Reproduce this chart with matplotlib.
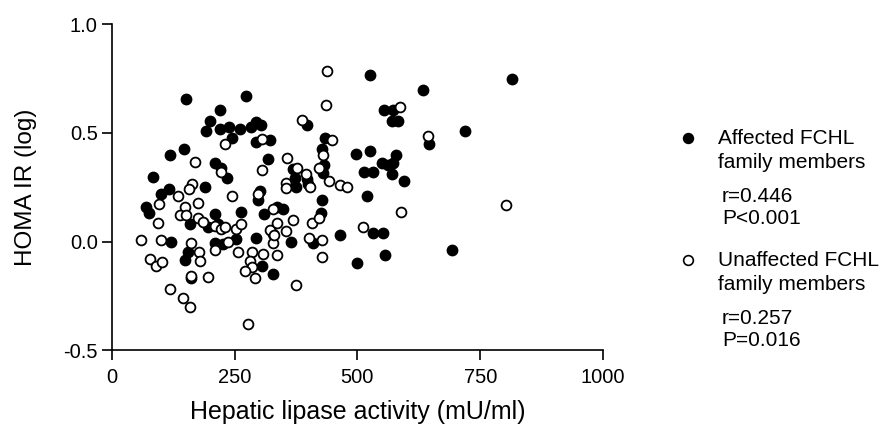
import matplotlib
matplotlib.use("Agg")
import matplotlib.pyplot as plt
from matplotlib.lines import Line2D

plt.rcParams["font.family"] = ["Liberation Sans", "DejaVu Sans"]

# Affected FCHL family members (filled circles)
aff_x = [150.7, 273, 220, 199.6, 191.4, 220, 239, 260.7, 243.8, 283, 293, 302.8, 293, 321.8,
         146.6, 119.5, 317.7, 209.8, 223.4, 233.6, 84.2, 189.4, 116.8, 99.8, 69.2, 76, 158.9,
         195, 209.8, 216.5, 264, 301.4, 296.7, 309.6, 335.4, 347.6, 121.5, 209.8, 226.7, 252.5,
         293.3, 155.4, 148.7, 162.3, 306, 327.3, 525.5, 632.8, 554, 571.7, 569.6, 583, 396.5,
         433.8, 646.2, 429, 496.3, 525.5, 578.4, 549.3, 562.8, 573, 513.2, 532.2, 569.6, 594.7,
         431.8, 430.3, 369.2, 372.7, 396.5, 399.8, 374.1, 427, 518.7, 425, 464.4, 532.2, 552.5,
         364, 409.9, 556, 498.4, 814, 719, 693]
aff_y = [0.658, 0.668, 0.607, 0.557, 0.508, 0.516, 0.526, 0.516, 0.477, 0.526, 0.550, 0.535, 0.459, 0.468,
         0.428, 0.398, 0.378, 0.360, 0.340, 0.291, 0.298, 0.252, 0.240, 0.217, 0.161, 0.130, 0.080,
         0.067, 0.128, 0.083, 0.138, 0.233, 0.190, 0.126, 0.159, 0.149, 0.000, -0.005, -0.012, 0.011,
         0.018, -0.050, -0.085, -0.168, -0.111, -0.150, 0.765, 0.699, 0.607, 0.607, 0.557, 0.557, 0.535,
         0.477, 0.447, 0.428, 0.405, 0.416, 0.398, 0.360, 0.352, 0.360, 0.320, 0.320, 0.309, 0.278,
         0.352, 0.317, 0.332, 0.294, 0.286, 0.263, 0.252, 0.190, 0.210, 0.133, 0.029, 0.041, 0.041,
         0.000, -0.005, -0.061, -0.101, 0.748, 0.508, -0.040]

# Unaffected FCHL family members (open circles)
unaff_x = [230, 306, 170.4, 221.4, 306, 164.3, 157.5, 135, 243.8, 298, 96.4, 148.7, 175.8, 138.5,
           150.7, 175.8, 186, 94.3, 209.8, 223.4, 230, 253.8, 264, 237, 60.5, 101.2, 160.9, 177.2,
           179.2, 209.8, 257.2, 77.4, 89.6, 103.3, 162.3, 196.1, 118.1, 145.2, 158.9, 276.4, 284.5,
           281, 286.5, 270.9, 291.2, 308.1, 327.3, 328.5, 321.8, 327.3, 438.5, 435.2, 586.6, 388.2,
           447.4, 644.2, 430.3, 355.8, 421.6, 376.2, 394.5, 441.9, 464.4, 479.2, 353.8, 353.8, 403.3,
           588, 511.8, 336.6, 368, 406.7, 422.2, 330, 353.8, 401.2, 428.3, 336.6, 428.3, 374.7, 801.8]
unaff_y = [0.447, 0.470, 0.367, 0.320, 0.329, 0.266, 0.240, 0.210, 0.210, 0.220, 0.172, 0.161, 0.179, 0.122,
           0.122, 0.110, 0.092, 0.087, 0.072, 0.057, 0.067, 0.057, 0.080, 0.000, 0.008, 0.008, -0.009, -0.047,
           -0.089, -0.040, -0.050, -0.081, -0.111, -0.092, -0.157, -0.162, -0.218, -0.260, -0.300, -0.379, -0.050,
           -0.089, -0.119, -0.134, -0.168, -0.058, -0.009, 0.034, 0.052, 0.149, 0.786, 0.627, 0.618, 0.558,
           0.467, 0.488, 0.398, 0.385, 0.340, 0.340, 0.309, 0.278, 0.260, 0.251, 0.268, 0.248, 0.252,
           0.138, 0.069, 0.087, 0.100, 0.087, 0.110, 0.029, 0.049, 0.018, 0.008, -0.061, -0.070, -0.199, 0.168]

x_ticks = [0, 250, 500, 750, 1000]
y_ticks = [-0.5, 0.0, 0.5, 1.0]

legend_items = [
    ("Affected FCHL\nfamily members", "r=0.446\nP<0.001", "black"),
    ("Unaffected FCHL\nfamily members", "r=0.257\nP=0.016", "white"),
]

fig = plt.figure(figsize=(8.94, 4.26), dpi=100)
ax = fig.add_axes([0.125, 0.178, 0.5495, 0.765])

ax.scatter(aff_x, aff_y, s=56, facecolor="black", edgecolor="black", linewidth=1.0, zorder=3, clip_on=False)
ax.scatter(unaff_x, unaff_y, s=50, facecolor="white", edgecolor="black", linewidth=1.3, zorder=4, clip_on=False)

ax.set_xlim(0, 1000)
ax.set_ylim(-0.5, 1.0)
ax.set_xticks(x_ticks)
ax.set_yticks(y_ticks)
ax.set_yticklabels([f"{v:.1f}" for v in y_ticks])
for side in ("top", "right"):
    ax.spines[side].set_visible(False)
for side in ("left", "bottom"):
    ax.spines[side].set_linewidth(1.2)
ax.tick_params(direction="out", length=7, width=1.2, labelsize=14.5)
ax.tick_params(axis="x", pad=6)
ax.tick_params(axis="y", pad=3)

ax.set_xlabel("Hepatic lipase activity (mU/ml)", fontsize=18, labelpad=9)
ax.set_ylabel("HOMA IR (log)", fontsize=17.5, labelpad=19)

# legend drawn by hand, in figure pixels
legend_y = [138, 260]
for (label, stats, face), ly in zip(legend_items, legend_y):
    yf = 1 - ly / 426
    fig.add_artist(Line2D([687.7 / 894], [yf], marker="o", markersize=7, markerfacecolor=face,
                          markeredgecolor="black", markeredgewidth=1.2, linestyle="none",
                          transform=fig.transFigure))
    fig.text(718 / 894, yf + 9 / 426, label, fontsize=15, va="top", ha="left", linespacing=1.3)
    fig.text(722 / 894, 1 - (ly + 49) / 426, stats, fontsize=15, va="top", ha="left", linespacing=1.2)

fig.savefig("out.png", dpi=100)
